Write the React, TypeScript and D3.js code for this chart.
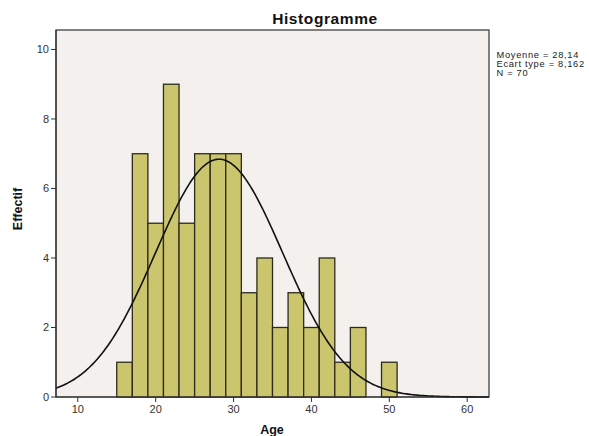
import React from "react";
import * as d3 from "d3";

const binStarts = [15, 17, 19, 21, 23, 25, 27, 29, 31, 33, 35, 37, 39, 41, 43, 45, 47, 49];
const counts = [1, 7, 5, 9, 5, 7, 7, 7, 3, 4, 2, 3, 2, 4, 1, 2, 0, 1];
const binWidth = 2;
const xTicks = [10, 20, 30, 40, 50, 60];
const yTicks = [0, 2, 4, 6, 8, 10];
const mean = 28.14;
const sd = 8.162;
const n = 70;
const statLines = ["Moyenne = 28,14", "Ecart type = 8,162", "N = 70"];

const W = 589;
const H = 436;
const left = 56;
const right = 489;
const top = 30;
const bottom = 397;

export default function App() {
  const x = d3.scaleLinear().domain([7.2, 62.8]).range([left, right]);
  const y = d3.scaleLinear().domain([0, 10.56]).range([bottom, top]);
  const curveX = d3.range(7.2, 62.8001, 0.2);
  const peak = (n * binWidth) / (sd * Math.sqrt(2 * Math.PI));
  const line = d3
    .line<number>()
    .x((v) => x(v))
    .y((v) => y(peak * Math.exp(-0.5 * ((v - mean) / sd) ** 2)))
    .curve(d3.curveLinear);
  const font = "Arial, 'Liberation Sans', sans-serif";
  return (
    <svg
      width={W}
      height={H}
      style={{ position: "absolute", left: 0, top: 0, background: "#fff" }}
      fontFamily={font}
    >
      <rect x={left} y={top} width={right - left} height={bottom - top} fill="#f3f0ee" stroke="#333" strokeWidth={1.2} />
      {binStarts.map((s, i) =>
        counts[i] > 0 ? (
          <rect
            key={i}
            x={x(s)}
            y={y(counts[i])}
            width={x(s + binWidth) - x(s)}
            height={y(0) - y(counts[i])}
            fill="#cbc66d"
            stroke="#2e2a1c"
            strokeWidth={1.3}
          />
        ) : null
      )}
      <path d={line(curveX) || ""} fill="none" stroke="#111" strokeWidth={1.6} />
      <line x1={left} x2={left} y1={top} y2={bottom} stroke="#333" strokeWidth={1.2} />
      <line x1={left} x2={right} y1={bottom} y2={bottom} stroke="#333" strokeWidth={1.2} />
      {yTicks.map((t) => (
        <g key={t}>
          <line x1={left - 5} x2={left} y1={y(t)} y2={y(t)} stroke="#333" />
          <text x={left - 7} y={y(t)} dy="0.35em" textAnchor="end" fontSize={11} fill="#333">
            {t}
          </text>
        </g>
      ))}
      {xTicks.map((t) => (
        <g key={t}>
          <line x1={x(t)} x2={x(t)} y1={bottom} y2={bottom + 5} stroke="#333" />
          <text x={x(t)} y={bottom + 16} textAnchor="middle" fontSize={11} fill="#333">
            {t}
          </text>
        </g>
      ))}
      <text x={325} y={24} textAnchor="middle" fontSize={15.5} fontWeight="bold" letterSpacing={0.6} fill="#111">
        Histogramme
      </text>
      <text x={272} y={434} textAnchor="middle" fontSize={12.5} fontWeight="bold" fill="#111">
        Age
      </text>
      <text
        transform={`translate(22,209) rotate(-90)`}
        textAnchor="middle"
        fontSize={12.5}
        fontWeight="bold"
        fill="#111"
      >
        Effectif
      </text>
      {statLines.map((s, i) => (
        <text key={i} x={496.5} y={57.5 + i * 9} fontSize={9.3} letterSpacing={0.7} fill="#222">
          {s}
        </text>
      ))}
    </svg>
  );
}
